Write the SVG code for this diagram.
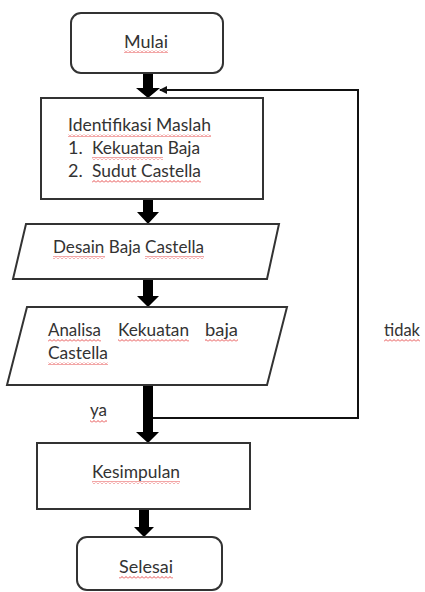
<svg xmlns="http://www.w3.org/2000/svg" width="425" height="592" viewBox="0 0 425 592">
<style>
.box{fill:#fff;stroke:#333;stroke-width:2}
.t{font-family:Lato,"Liberation Sans",sans-serif;font-size:18px;fill:#333}
.sq{fill:url(#squig)}
.fb{fill:none;stroke:#111;stroke-width:2}
.ar{fill:#000}
</style>
<defs>
<pattern id="squig" patternUnits="userSpaceOnUse" width="4" height="3">
<path d="M0 2.5 L2 0.5 L4 2.5" fill="none" stroke="#e02020" stroke-width="0.8"/>
</pattern>
<marker id="hd" markerWidth="8" markerHeight="8" refX="7" refY="4" orient="auto" markerUnits="userSpaceOnUse">
<path d="M0 0 L8 4 L0 8 Z" fill="#111"/>
</marker>
</defs>
<g id="connectors">
<polygon class="ar" points="143,73 153,73 153,88 160,88 148,98 136,88 143,88"/>
<polygon class="ar" points="143,199 153,199 153,212 159,212 148,224 137,212 143,212"/>
<polygon class="ar" points="143,279 153,279 153,296 159,296 148,307 137,296 143,296"/>
<polygon class="ar" points="143,385 153,385 153,432 159,432 148,443 136,432 143,432"/>
<polygon class="ar" points="139,509 149,509 149,527 154,527 144,537 134,527 139,527"/>
<polyline class="fb" points="153,418 358,418 358,90 160,90" marker-end="url(#hd)"/>
<text class="t" x="384" y="336" textLength="36" lengthAdjust="spacingAndGlyphs">tidak</text>
<rect class="sq" x="384" y="339" width="36" height="3"/>
<text class="t" x="90" y="416" textLength="17" lengthAdjust="spacingAndGlyphs">ya</text>
<rect class="sq" x="90" y="420" width="17" height="3"/>
</g>
<g id="mulai">
<rect class="box" x="71" y="13" width="152" height="60" rx="10"/>
<text class="t" x="124" y="48" textLength="44" lengthAdjust="spacingAndGlyphs">Mulai</text>
<rect class="sq" x="124" y="50" width="44" height="3"/>
</g>
<g id="identifikasi">
<rect class="box" x="41" y="98" width="222" height="101"/>
<text class="t" x="68" y="131" textLength="143" lengthAdjust="spacingAndGlyphs">Identifikasi Maslah</text>
<rect class="sq" x="68" y="134" width="143" height="3"/>
<text class="t" x="68" y="154">1.</text>
<text class="t" x="92" y="154" textLength="108" lengthAdjust="spacingAndGlyphs">Kekuatan Baja</text>
<rect class="sq" x="92" y="157" width="71" height="3"/>
<text class="t" x="68" y="177">2.</text>
<text class="t" x="92" y="177" textLength="109" lengthAdjust="spacingAndGlyphs">Sudut Castella</text>
<rect class="sq" x="92" y="180" width="109" height="3"/>
</g>
<g id="desain">
<polygon class="box" points="26,224 279,224 267,279 13,279"/>
<text class="t" x="53" y="253" textLength="151" lengthAdjust="spacingAndGlyphs">Desain Baja Castella</text>
<rect class="sq" x="53" y="256" width="52" height="3"/>
<rect class="sq" x="145" y="256" width="59" height="3"/>
</g>
<g id="analisa">
<polygon class="box" points="27,307 287,307 267,385 7,385"/>
<text class="t" x="48" y="336" textLength="53" lengthAdjust="spacingAndGlyphs">Analisa</text>
<text class="t" x="118" y="336" textLength="71" lengthAdjust="spacingAndGlyphs">Kekuatan</text>
<text class="t" x="205" y="336" textLength="33" lengthAdjust="spacingAndGlyphs">baja</text>
<rect class="sq" x="48" y="339" width="53" height="3"/>
<rect class="sq" x="118" y="339" width="71" height="3"/>
<rect class="sq" x="205" y="339" width="33" height="3"/>
<text class="t" x="48" y="359" textLength="60" lengthAdjust="spacingAndGlyphs">Castella</text>
<rect class="sq" x="48" y="362" width="60" height="3"/>
</g>
<g id="kesimpulan">
<rect class="box" x="37" y="443" width="213" height="66"/>
<text class="t" x="92" y="478" textLength="88" lengthAdjust="spacingAndGlyphs">Kesimpulan</text>
<rect class="sq" x="92" y="481" width="88" height="3"/>
</g>
<g id="selesai">
<rect class="box" x="77" y="537" width="145" height="53" rx="10"/>
<text class="t" x="119" y="573" textLength="54" lengthAdjust="spacingAndGlyphs">Selesai</text>
<rect class="sq" x="119" y="576" width="54" height="3"/>
</g>
</svg>
